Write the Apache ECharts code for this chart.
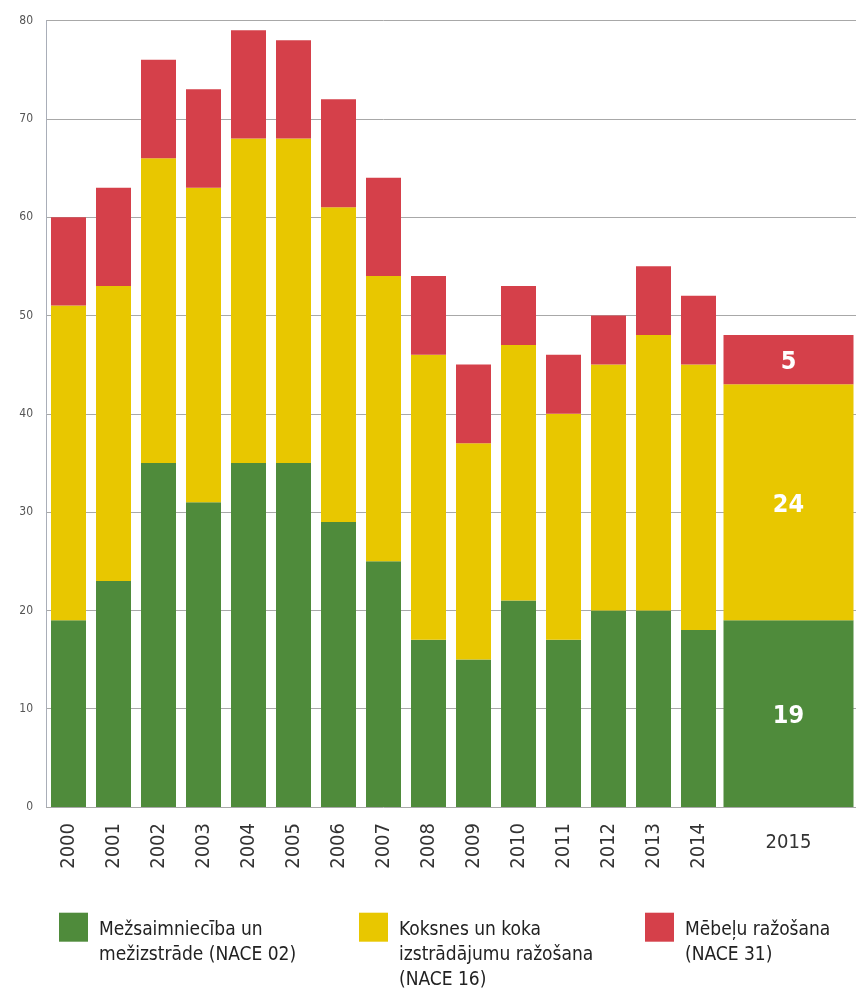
<!DOCTYPE html>
<html>
<head>
<meta charset="utf-8">
<script src="https://cdn.jsdelivr.net/npm/echarts@6/dist/echarts.min.js"></script>
<style>
html,body{margin:0;padding:0;background:#fff;}
#chart{width:856px;height:996px;}
</style>
</head>
<body>
<div id="chart"></div>
<script>
// Data
var yearsMain = ['2000','2001','2002','2003','2004','2005','2006','2007','2008','2009','2010','2011','2012','2013','2014'];
var yearsLast = ['2015'];
var forestry  = [19,23,35,31,35,35,29,25,17,15,21,17,20,20,18];
var wood      = [32,30,31,32,33,33,32,29,29,22,26,23,25,28,27];
var furniture = [9,10,10,10,11,10,11,10,8,8,6,6,5,7,7];
var forestryLast  = [19];
var woodLast      = [24];
var furnitureLast = [5];
var seriesNames = [
  'Mežsaimniecība un\nmežizstrāde (NACE 02)',
  'Koksnes un koka\nizstrādājumu ražošana\n(NACE 16)',
  'Mēbeļu ražošana\n(NACE 31)'
];
var yTicks = {min:0, max:80, interval:10};

var FONT = '"DejaVu Sans Condensed", "Liberation Sans Narrow", sans-serif';
var colors = ['#4f8b3b', '#e8c700', '#d5404a'];

var chart = echarts.init(document.getElementById('chart'));

function yAxis(gridIndex, showLabels) {
  return {
    type: 'value', gridIndex: gridIndex,
    min: yTicks.min, max: yTicks.max, interval: yTicks.interval,
    axisLine: {show: showLabels, lineStyle: {color: '#a9aeb8', width: 1}},
    axisTick: {show: false},
    axisLabel: {show: showLabels, fontFamily: FONT, fontSize: 12, color: '#555', margin: 13},
    splitLine: {show: true, lineStyle: {color: '#a8a8a8', width: 1}}
  };
}

// legend text is centred on the icon; a spacer line on top pushes the text block
// down so it starts near the icon's top edge
var LH = 25, ICON = 29, ICON_TOP = 912.7;
function legend(idx, left) {
  var lines = seriesNames[idx].split('\n');
  var textH = lines.length * LH;
  var spacer = textH - 19;
  return {
    data: [seriesNames[idx]],
    left: left, top: ICON_TOP - (textH - 24),
    padding: 0,
    icon: 'rect', itemWidth: ICON, itemHeight: ICON,
    selectedMode: false,
    formatter: function (name) {
      return '{sp| }\n' + name.split('\n').map(function (l) { return '{t|' + l + '}'; }).join('\n');
    },
    textStyle: {
      fontFamily: FONT, fontSize: 19, color: '#222',
      rich: {
        sp: {height: spacer, lineHeight: spacer, fontSize: 1},
        t: {fontFamily: FONT, fontSize: 19, color: '#222', lineHeight: LH, padding: [0, 0, 0, 6]}
      }
    }
  };
}

var mainData = [forestry, wood, furniture];
var lastData = [forestryLast, woodLast, furnitureLast];
var series = [];
for (var i = 0; i < 3; i++) {
  series.push({
    name: seriesNames[i], type: 'bar', stack: 'a',
    xAxisIndex: 0, yAxisIndex: 0,
    barWidth: 35,
    itemStyle: {color: colors[i]},
    data: mainData[i]
  });
}
for (var j = 0; j < 3; j++) {
  series.push({
    name: seriesNames[j], type: 'bar', stack: 'b',
    xAxisIndex: 1, yAxisIndex: 1,
    barWidth: 130,
    itemStyle: {color: colors[j]},
    label: {show: true, position: 'inside', offset: [0, 3], color: '#fff', fontFamily: FONT, fontWeight: 'bold', fontSize: 25},
    data: lastData[j]
  });
}

chart.setOption({
  animation: false,
  backgroundColor: '#fff',
  grid: [
    {left: 46, right: 135, top: 20.5, bottom: 189},
    {left: 721, right: 0, top: 20.5, bottom: 189}
  ],
  xAxis: [
    {
      type: 'category', gridIndex: 0, data: yearsMain,
      axisLine: {show: false}, axisTick: {show: false},
      axisLabel: {rotate: 90, fontFamily: FONT, fontSize: 20, color: '#333', margin: 16, interval: 0}
    },
    {
      type: 'category', gridIndex: 1, data: yearsLast,
      axisLine: {show: false}, axisTick: {show: false},
      axisLabel: {fontFamily: FONT, fontSize: 20, color: '#333', margin: 26}
    }
  ],
  yAxis: [yAxis(0, true), yAxis(1, false)],
  legend: [legend(0, 59), legend(1, 359), legend(2, 645)],
  series: series
});
</script>
</body>
</html>
